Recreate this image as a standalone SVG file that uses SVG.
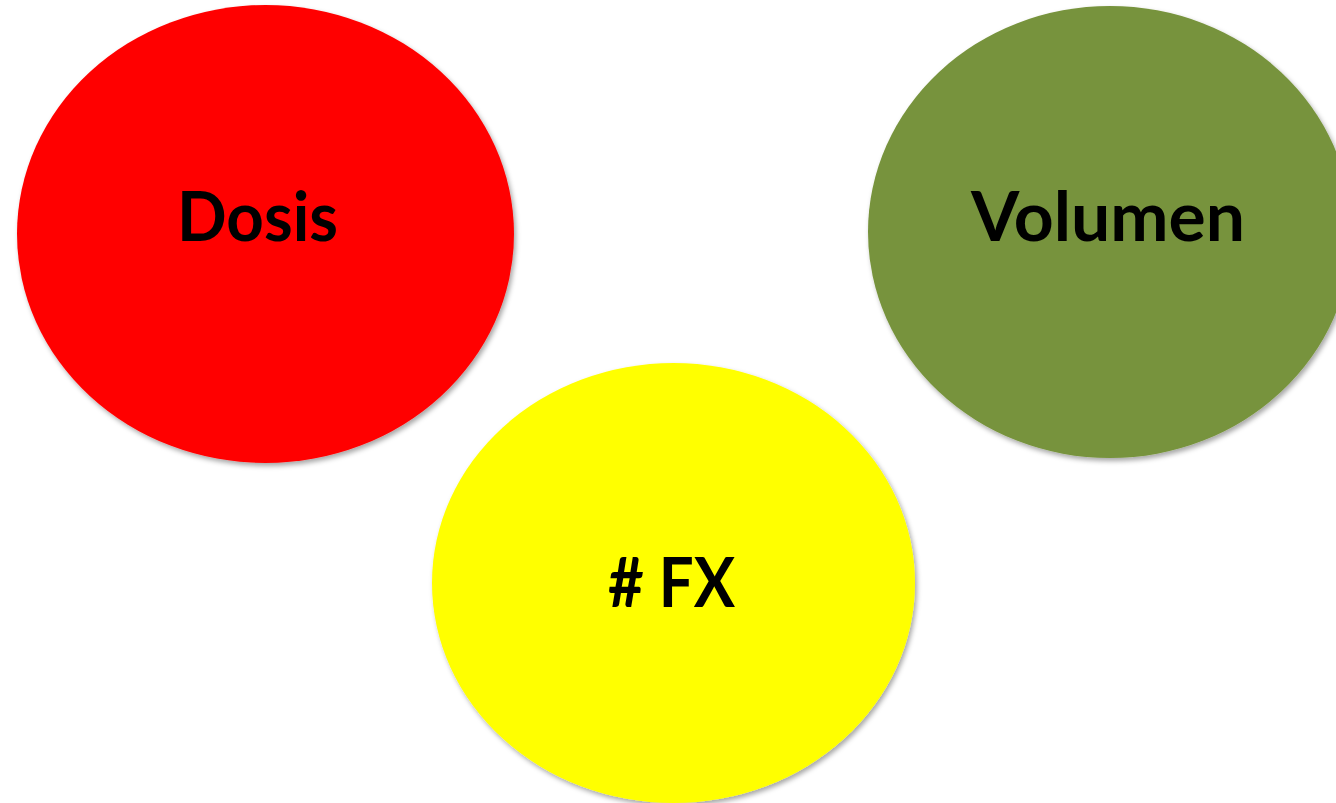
<svg xmlns="http://www.w3.org/2000/svg" width="1336" height="803" viewBox="0 0 1336 803">
<style>
.lbl{font-family:Lato,"Liberation Sans",sans-serif;font-weight:700;font-size:68px;fill:#000;text-anchor:middle}
.node{filter:url(#sh)}
</style>
<defs>
<filter id="sh" x="-10%" y="-10%" width="120%" height="120%">
<feDropShadow dx="2" dy="3" stdDeviation="2.5" flood-color="#000" flood-opacity="0.35"/>
</filter>
</defs>
<rect width="1336" height="803" fill="#fff"/>
<g id="connectors"></g>
<g id="dosis">
<ellipse class="node" cx="265.5" cy="234" rx="248.5" ry="229" fill="#ff0000"/>
<text class="lbl" x="257.5" y="241" textLength="161" lengthAdjust="spacingAndGlyphs">Dosis</text>
</g>
<g id="volumen">
<ellipse class="node" cx="1110" cy="232" rx="242" ry="226" fill="#77933c"/>
<text class="lbl" x="1108" y="241" textLength="274" lengthAdjust="spacingAndGlyphs">Volumen</text>
</g>
<g id="fx">
<ellipse class="node" cx="673.5" cy="583" rx="241.5" ry="220" fill="#ffff00"/>
<text class="lbl" x="671.5" y="607" textLength="127" lengthAdjust="spacingAndGlyphs"># FX</text>
</g>
</svg>
